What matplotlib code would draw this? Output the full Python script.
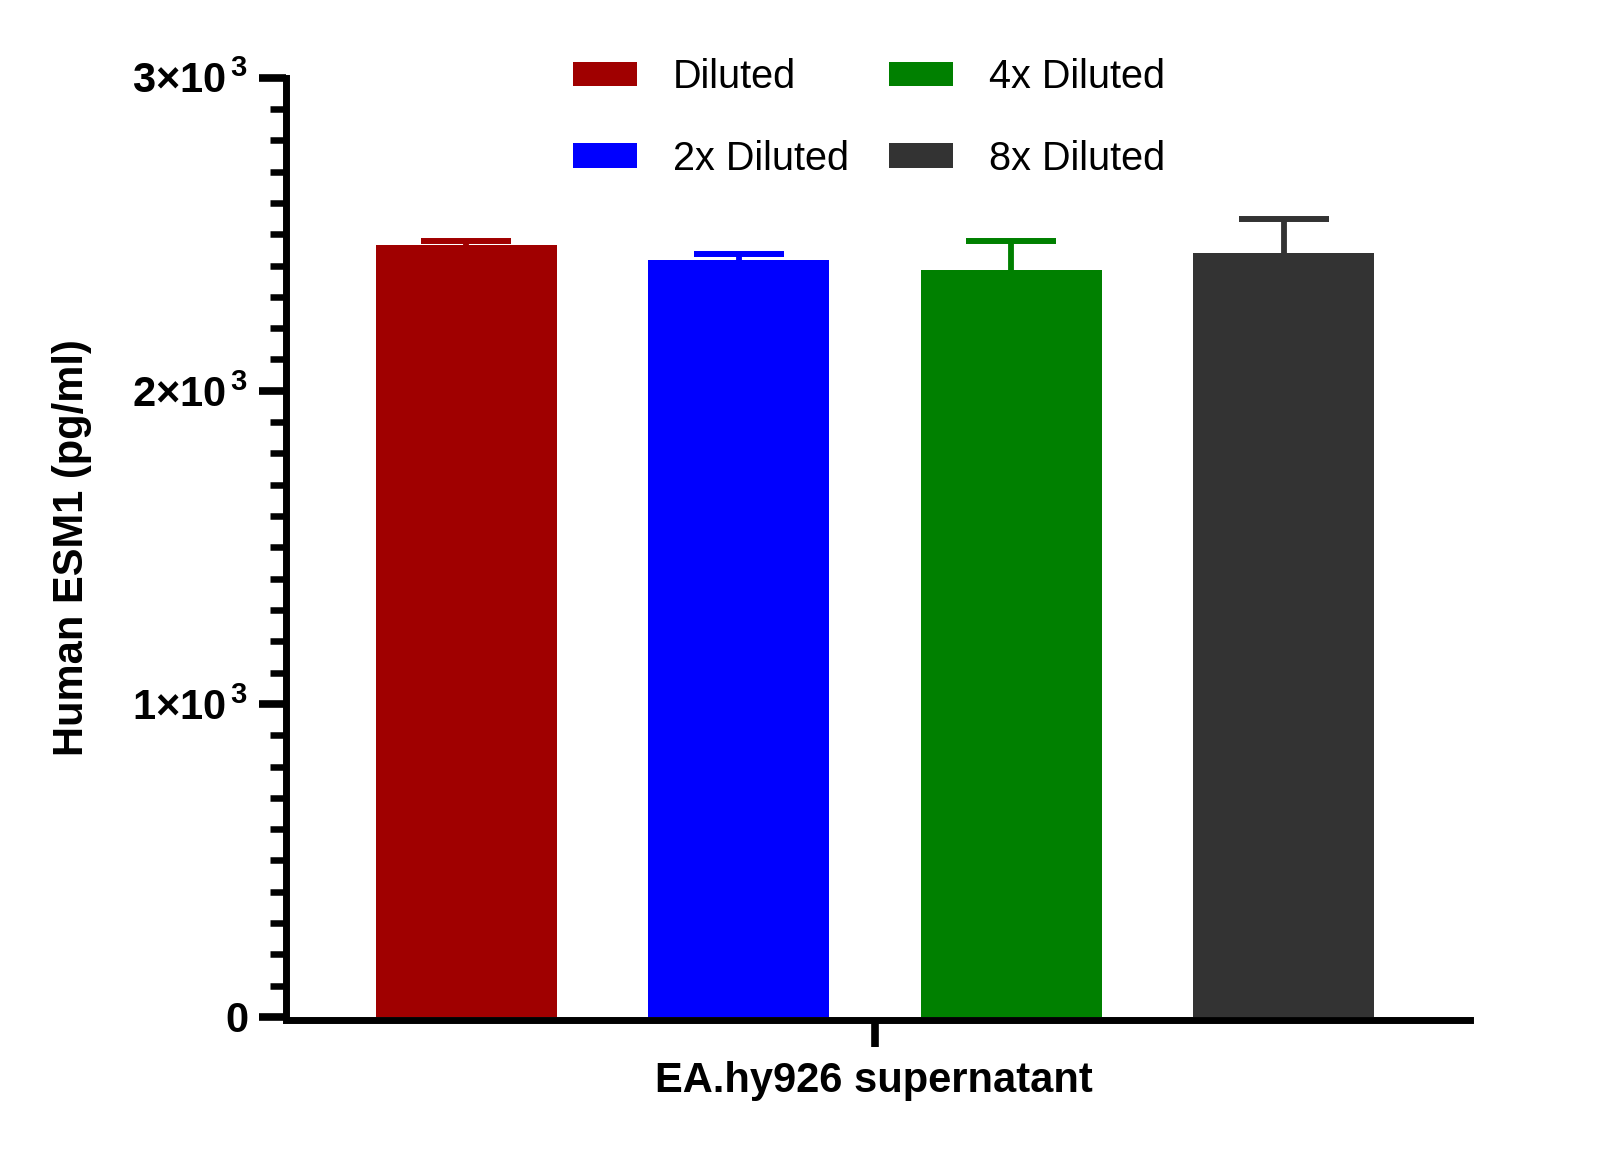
import numpy as np
import matplotlib
matplotlib.use('Agg')
import matplotlib.pyplot as plt
from matplotlib.patches import Patch
from matplotlib.ticker import MultipleLocator, FixedLocator

# Data
groups = ['Diluted', '2x Diluted', '4x Diluted', '8x Diluted']
means = [2466, 2418, 2386, 2440]
errors = [11, 19, 91, 108]
colors = ['#A00000', '#0000FF', '#008000', '#333333']
ytick_values = [0, 1000, 2000, 3000]
ytick_labels = ['0', r'$\mathbf{1{\times}10^{\,3}}$', r'$\mathbf{2{\times}10^{\,3}}$',
                r'$\mathbf{3{\times}10^{\,3}}$']
xlabel = 'EA.hy926 supernatant'
ylabel = 'Human ESM1 (pg/ml)'


def main():
    plt.rcParams['font.family'] = ['Liberation Sans', 'DejaVu Sans']
    plt.rcParams['mathtext.fontset'] = 'custom'
    plt.rcParams['mathtext.rm'] = 'Liberation Sans'
    plt.rcParams['mathtext.bf'] = 'Liberation Sans:bold'

    W, H = 1597, 1159
    fig = plt.figure(figsize=(W / 100, H / 100), dpi=100)

    # axes placed in pixel terms
    left, right = 285.5, 1470
    top, bottom = 77.7, 1017
    ax = fig.add_axes([left / W, 1 - bottom / H, (right - left) / W, (bottom - top) / H])

    x = np.arange(len(groups))
    ax.bar(x, means, width=0.664, color=colors, zorder=2)
    for xi, m, e, c in zip(x, means, errors, colors):
        eb = ax.errorbar(xi, m, yerr=[[0], [e]], fmt='none', ecolor=c,
                         elinewidth=4.2, capsize=32.4, capthick=4.3, zorder=3)
        # keep only the upper cap
        for cap in eb[1]:
            if cap.get_ydata()[0] <= m:
                cap.set_visible(False)

    ax.set_xlim(-0.664, 3.683)
    ax.set_ylim(0, 3000)

    # spines
    for s in ['top', 'right']:
        ax.spines[s].set_visible(False)
    for s in ['left', 'bottom']:
        ax.spines[s].set_linewidth(5)
        ax.spines[s].set_capstyle('projecting')
    ax.spines['bottom'].set_position(('outward', 2.5))

    # y ticks
    ax.yaxis.set_major_locator(FixedLocator(ytick_values))
    ax.set_yticklabels(ytick_labels, fontsize=30, fontweight='bold')
    ax.yaxis.set_minor_locator(MultipleLocator(100))
    ax.tick_params(axis='y', which='major', length=19.8, width=5.5, pad=7)
    ax.tick_params(axis='y', which='minor', length=11.2, width=4.7)

    # single category tick on x
    ax.set_xticks([x.mean()])
    ax.set_xticklabels([''])
    ax.tick_params(axis='x', which='major', length=19.5, width=5.5)

    ax.set_xlabel(xlabel, fontsize=30, fontweight='bold')
    ax.xaxis.set_label_coords((874 - left) / (right - left), -(1061 - bottom) / (bottom - top))
    ax.set_ylabel(ylabel, fontsize=30, fontweight='bold')
    ax.yaxis.set_label_coords((92 - left) / (right - left), 0.5)

    # legend, two columns
    handles = [Patch(facecolor=c, label=g) for g, c in zip(groups, colors)]
    fig.legend(handles=handles, loc='upper left', ncol=2, frameon=False,
               bbox_to_anchor=(573 / W, 1 - 58 / H), fontsize=28.5,
               handlelength=1.62, handleheight=0.59, handletextpad=0.9,
               columnspacing=1.02, labelspacing=1.1, borderpad=0, borderaxespad=0)

    fig.savefig('out.png', dpi=100)


if __name__ == '__main__':
    main()
